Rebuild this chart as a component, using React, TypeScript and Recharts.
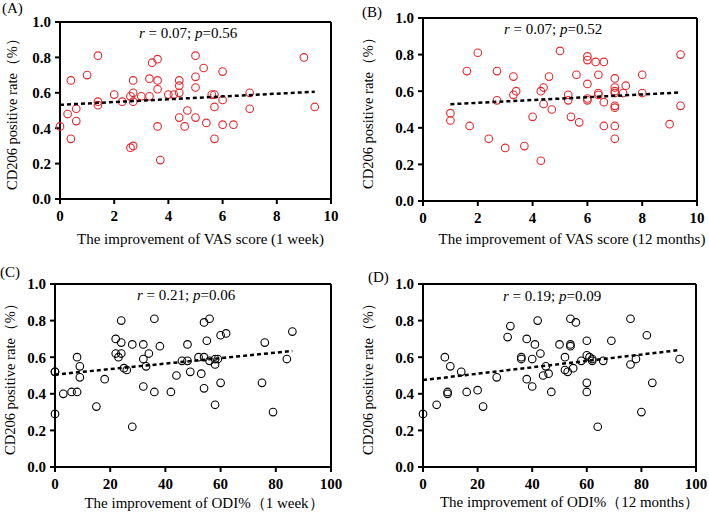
import React from 'react';
import { ScatterChart, Scatter, XAxis, YAxis, ReferenceLine } from 'recharts';

// (A) VAS improvement, 1 week
const vas1wX = [0, 0.28, 0.4, 0.4, 0.6, 0.6, 1.0, 1.4, 1.4, 1.4, 2.0, 2.3, 2.6, 2.6, 2.7, 2.7, 2.7, 2.7, 3.0, 3.3, 3.3, 3.4, 3.6, 3.6, 3.6, 3.6, 3.7, 4.0, 4.2, 4.4, 4.4, 4.4, 4.4, 4.6, 4.7, 5.0, 5.0, 5.0, 5.0, 5.3, 5.4, 5.6, 5.7, 5.7, 5.7, 6.0, 6.0, 6.0, 6.4, 7.0, 7.0, 9.0, 9.4];
const vas1wY = [0.41, 0.48, 0.67, 0.34, 0.51, 0.44, 0.70, 0.81, 0.55, 0.53, 0.59, 0.55, 0.58, 0.29, 0.30, 0.67, 0.60, 0.55, 0.58, 0.68, 0.58, 0.77, 0.79, 0.67, 0.62, 0.41, 0.22, 0.59, 0.59, 0.67, 0.64, 0.60, 0.46, 0.41, 0.50, 0.81, 0.69, 0.63, 0.46, 0.74, 0.43, 0.59, 0.59, 0.52, 0.34, 0.72, 0.56, 0.42, 0.42, 0.60, 0.51, 0.80, 0.52];
const vas1wTrendX = [0, 9.4];
const vas1wTrendY = [0.532, 0.606];

// (B) VAS improvement, 12 months
const vas12mX = [1.0, 1.0, 1.6, 1.7, 2.0, 2.4, 2.7, 2.7, 3.0, 3.3, 3.3, 3.4, 3.7, 4.0, 4.3, 4.3, 4.4, 4.4, 4.6, 4.7, 5.0, 5.3, 5.3, 5.4, 5.6, 5.7, 6.0, 6.0, 6.0, 6.0, 6.0, 6.3, 6.4, 6.4, 6.4, 6.6, 6.6, 6.6, 7.0, 7.0, 7.0, 7.0, 7.0, 7.0, 7.0, 7.0, 7.3, 7.4, 8.0, 8.0, 9.0, 9.4, 9.4];
const vas12mY = [0.48, 0.44, 0.71, 0.41, 0.81, 0.34, 0.71, 0.55, 0.29, 0.68, 0.58, 0.60, 0.30, 0.46, 0.22, 0.60, 0.62, 0.53, 0.68, 0.50, 0.82, 0.58, 0.55, 0.46, 0.69, 0.43, 0.79, 0.77, 0.64, 0.56, 0.55, 0.76, 0.69, 0.59, 0.58, 0.54, 0.41, 0.76, 0.67, 0.62, 0.60, 0.59, 0.52, 0.51, 0.41, 0.34, 0.59, 0.63, 0.69, 0.59, 0.42, 0.80, 0.52];
const vas12mTrendX = [1, 9.4];
const vas12mTrendY = [0.529, 0.593];

// (C) ODI% improvement, 1 week
const odi1wX = [0, 0, 0, 3, 6, 8, 8, 9, 9, 15, 18, 22, 22, 23, 24, 24, 24, 25, 26, 28, 28, 32, 32, 32, 33, 34, 36, 36, 38, 42, 44, 46, 48, 48, 49, 52, 53, 54, 54, 54, 55, 56, 56, 58, 58, 58, 59, 60, 60, 62, 75, 76, 79, 84, 86];
const odi1wY = [0.52, 0.52, 0.29, 0.40, 0.41, 0.41, 0.60, 0.55, 0.49, 0.33, 0.48, 0.70, 0.62, 0.60, 0.80, 0.68, 0.62, 0.54, 0.53, 0.67, 0.22, 0.67, 0.59, 0.44, 0.55, 0.62, 0.81, 0.41, 0.66, 0.41, 0.50, 0.58, 0.67, 0.58, 0.52, 0.60, 0.51, 0.79, 0.60, 0.43, 0.69, 0.81, 0.58, 0.34, 0.56, 0.59, 0.59, 0.72, 0.46, 0.73, 0.46, 0.68, 0.30, 0.59, 0.74];
const odi1wTrendX = [0, 86];
const odi1wTrendY = [0.505, 0.634];

// (D) ODI% improvement, 12 months
const odi12mX = [0, 5, 8, 9, 9, 10, 14, 16, 20, 22, 27, 31, 32, 36, 36, 38, 38, 40, 40, 41, 42, 43, 44, 45, 46, 47, 50, 52, 52, 53, 54, 54, 54, 55, 56, 58, 60, 60, 60, 60, 61, 62, 62, 64, 66, 69, 76, 76, 78, 80, 82, 84, 94];
const odi12mY = [0.29, 0.34, 0.60, 0.41, 0.40, 0.55, 0.52, 0.41, 0.42, 0.33, 0.49, 0.71, 0.77, 0.60, 0.59, 0.70, 0.48, 0.59, 0.44, 0.67, 0.80, 0.62, 0.50, 0.55, 0.51, 0.41, 0.67, 0.60, 0.53, 0.52, 0.81, 0.67, 0.66, 0.54, 0.79, 0.58, 0.69, 0.61, 0.46, 0.41, 0.60, 0.59, 0.58, 0.22, 0.58, 0.69, 0.81, 0.56, 0.59, 0.30, 0.72, 0.46, 0.59];
const odi12mTrendX = [0, 94];
const odi12mTrendY = [0.475, 0.639];

const yTicks = [0, 0.2, 0.4, 0.6, 0.8, 1.0];
const vasTicks = [0, 2, 4, 6, 8, 10];
const odiTicks = [0, 20, 40, 60, 80, 100];

const SERIF = '"Liberation Serif", "Times New Roman", serif';

const toPoints = (xs: number[], ys: number[]) => xs.map((x, i) => ({ x, y: ys[i] }));

interface PanelProps {
  left: number;
  top: number;
  width: number;
  height: number;
  margin: { top: number; right: number; left: number; bottom: number };
  yAxisWidth: number;
  xAxisHeight: number;
  xMax: number;
  xTicks: number[];
  points: { x: number; y: number }[];
  trend: { x: number; y: number }[];
  color: string;
  tag: string;
  tagPos: [number, number];
  r: string;
  p: string;
  statPos: [number, number];
  xLabel: string;
  xLabelDx: number;
  xLabelDy: number;
  yLabelDx: number;
}

const Panel = (props: PanelProps) => {
  const {
    left, top, width, height, margin, yAxisWidth, xAxisHeight, xMax, xTicks,
    points, trend, color, tag, tagPos, r, p, statPos, xLabel, xLabelDx, xLabelDy, yLabelDx,
  } = props;

  const tickStyle = { fill: '#000', fontSize: 15, fontWeight: 700, fontFamily: SERIF };
  const axisStyle = { stroke: '#000', strokeWidth: 2 };

  const circle = (s: any) => (
    <circle cx={s.cx} cy={s.cy} r={3.8} fill="none" stroke={color} strokeWidth={1.1} />
  );

  return (
    <div style={{ position: 'absolute', left, top, width, height }}>
      <ScatterChart width={width} height={height} margin={margin}>
        <XAxis
          type="number"
          dataKey="x"
          domain={[0, xMax]}
          ticks={xTicks}
          interval={0}
          height={xAxisHeight}
          tickSize={5}
          tickMargin={6}
          axisLine={axisStyle}
          tickLine={axisStyle}
          tick={tickStyle}
          label={{
            content: (lp: any) => {
              const vb = lp.viewBox;
              return (
                <text
                  x={vb.x + vb.width / 2 + xLabelDx}
                  y={vb.y + xLabelDy}
                  textAnchor="middle"
                  dominantBaseline="central"
                  fontSize={15}
                  fontFamily={SERIF}
                  fill="#000"
                >
                  {xLabel}
                </text>
              );
            },
          }}
        />
        <YAxis
          type="number"
          dataKey="y"
          domain={[0, 1]}
          ticks={yTicks}
          interval={0}
          width={yAxisWidth}
          tickSize={5}
          tickMargin={4}
          axisLine={axisStyle}
          tickLine={axisStyle}
          tick={tickStyle}
          tickFormatter={(v: number) => v.toFixed(1)}
          label={{
            content: (lp: any) => {
              const vb = lp.viewBox;
              const cx = vb.x + yLabelDx;
              const cy = vb.y + vb.height / 2;
              return (
                <text
                  x={cx}
                  y={cy}
                  transform={`rotate(-90 ${cx} ${cy})`}
                  textAnchor="middle"
                  dominantBaseline="central"
                  fontSize={14.5}
                  fontFamily={SERIF}
                  fill="#000"
                >
                  CD206 positive rate（%）
                </text>
              );
            },
          }}
        />
        <ReferenceLine y={1} stroke="#000" strokeWidth={2} />
        <ReferenceLine x={xMax} stroke="#000" strokeWidth={2} />
        <Scatter data={points} shape={circle} isAnimationActive={false} />
        <Scatter
          data={trend}
          shape={() => <g />}
          line={{ stroke: '#000', strokeWidth: 2.5, strokeDasharray: '4 3' }}
          isAnimationActive={false}
        />
      </ScatterChart>
      <div
        style={{
          position: 'absolute', left: tagPos[0], top: tagPos[1], fontFamily: SERIF,
          fontSize: 15, lineHeight: '16px', color: '#000', whiteSpace: 'nowrap',
        }}
      >
        {tag}
      </div>
      <div
        style={{
          position: 'absolute', left: statPos[0], top: statPos[1], fontFamily: SERIF,
          fontSize: 15, lineHeight: '16px', color: '#000', whiteSpace: 'nowrap',
        }}
      >
        <i>r</i> = {r}; <i>p</i>={p}
      </div>
    </div>
  );
};

export default function App() {
  return (
    <div style={{ position: 'absolute', left: 0, top: 0, width: 709, height: 516, background: '#fff' }}>
      <Panel
        left={0} top={0} width={355} height={258}
        margin={{ top: 22, right: 24, left: 0, bottom: 0 }}
        yAxisWidth={60} xAxisHeight={59} xMax={10} xTicks={vasTicks}
        points={toPoints(vas1wX, vas1wY)} trend={toPoints(vas1wTrendX, vas1wTrendY)}
        color="#e8262b" tag="(A)" tagPos={[2, 0]}
        r="0.07" p="0.56" statPos={[139, 25]}
        xLabel="The improvement of VAS score (1 week)" xLabelDx={5} xLabelDy={40} yLabelDx={12}
      />
      <Panel
        left={355} top={0} width={354} height={258}
        margin={{ top: 18, right: 12, left: 0, bottom: 0 }}
        yAxisWidth={68} xAxisHeight={57} xMax={10} xTicks={vasTicks}
        points={toPoints(vas12mX, vas12mY)} trend={toPoints(vas12mTrendX, vas12mTrendY)}
        color="#e8262b" tag="(B)" tagPos={[7, 4]}
        r="0.07" p="0.52" statPos={[149, 21]}
        xLabel="The improvement of VAS score (12 months)" xLabelDx={12} xLabelDy={38} yLabelDx={13}
      />
      <Panel
        left={0} top={258} width={355} height={258}
        margin={{ top: 26, right: 24, left: 0, bottom: 0 }}
        yAxisWidth={55} xAxisHeight={49} xMax={100} xTicks={odiTicks}
        points={toPoints(odi1wX, odi1wY)} trend={toPoints(odi1wTrendX, odi1wTrendY)}
        color="#000" tag="(C)" tagPos={[0, 6]}
        r="0.21" p="0.06" statPos={[137, 29]}
        xLabel="The improvement of ODI%（1 week）" xLabelDx={11} xLabelDy={36} yLabelDx={10}
      />
      <Panel
        left={355} top={258} width={354} height={258}
        margin={{ top: 26, right: 13, left: 0, bottom: 0 }}
        yAxisWidth={68} xAxisHeight={49} xMax={100} xTicks={odiTicks}
        points={toPoints(odi12mX, odi12mY)} trend={toPoints(odi12mTrendX, odi12mTrendY)}
        color="#000" tag="(D)" tagPos={[13, 11]}
        r="0.19" p="0.09" statPos={[148, 30]}
        xLabel="The improvement of ODI%（12 months）" xLabelDx={10} xLabelDy={35} yLabelDx={13}
      />
    </div>
  );
}
